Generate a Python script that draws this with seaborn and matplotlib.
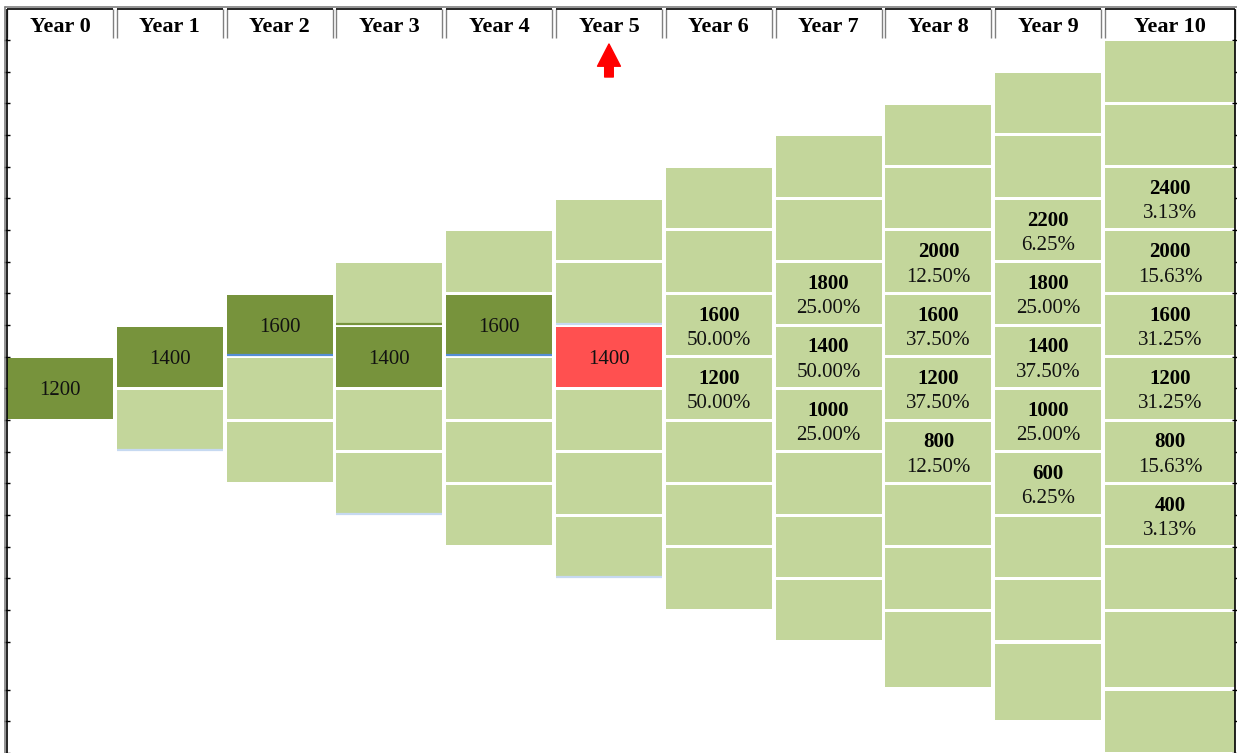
import matplotlib
matplotlib.use("Agg")
import matplotlib.pyplot as plt
from matplotlib.lines import Line2D
import numpy as np
import seaborn as sns


# ---------------------------------------------------------------------------
# Data
# ---------------------------------------------------------------------------

years = ["Year 0", "Year 1", "Year 2", "Year 3", "Year 4", "Year 5",
         "Year 6", "Year 7", "Year 8", "Year 9", "Year 10"]

# top / bottom node of each year's lattice, nodes are 400 apart
lattice_top = [1200, 1400, 1600, 1800, 2000, 2200, 2400, 2600, 2800, 3000, 3200]
lattice_bottom = [1200, 1000, 800, 600, 400, 200, 0, -200, -400, -600, -800]
lattice_step = 400

# realised path, Year 0 .. Year 5 (last one = current year)
path_values = [1200, 1400, 1600, 1400, 1600, 1400]

# forecast nodes and their probabilities (%)
forecast_years = [6, 7, 8, 9, 10]
forecast_values = [
    [1600, 1200],
    [1800, 1400, 1000],
    [2000, 1600, 1200, 800],
    [2200, 1800, 1400, 1000, 600],
    [2400, 2000, 1600, 1200, 800, 400],
]
forecast_probs = [
    [50.00, 50.00],
    [25.00, 50.00, 25.00],
    [12.50, 37.50, 37.50, 12.50],
    [6.25, 25.00, 37.50, 25.00, 6.25],
    [3.13, 15.63, 31.25, 31.25, 15.63, 3.13],
]

# thin coloured rules left under some cells (year, node, colour)
cell_rules = [
    (1, 1000, "#C6D9F1"), (2, 1600, "#558ED5"), (3, 1800, "#77933C"),
    (3, 600, "#C6D9F1"), (4, 1600, "#558ED5"), (5, 1800, "#C6D9F1"),
    (5, 200, "#C6D9F1"),
]

# ---------------------------------------------------------------------------
# Style / layout
# ---------------------------------------------------------------------------

LIGHT = "#C3D69B"
DARK = "#77933C"
CURRENT = "#FF5050"
GREY = "#808080"

W, H = 1237, 753
col_width = [0.965] * 10 + [1.184]
X_MAX = 11.184

PX = 31.83 / 200          # pixels per value unit
ROW = 48                  # one stretched table row (-400 .. -600)
px_m400 = 390 + 1600 * PX
v_knots = [-3000, -600, -400, 5000]
px_knots = [px_m400 + ROW + 2400 * PX, px_m400 + ROW, px_m400, 390 - 3800 * PX]
q_knots = [-p for p in px_knots]


def fwd(v):
    return np.interp(v, v_knots, q_knots)


def inv(q):
    return np.interp(q, q_knots, v_knots)


gap = 1.5 / PX
head_px = 39.9
nudge = 2.5 / PX          # text sits a little below the cell centre

sns.set_theme(style="white")
plt.rcParams["font.family"] = ["Liberation Serif", "DejaVu Serif"]

fig = plt.figure(figsize=(W / 100, H / 100), dpi=100)
fig.patch.set_facecolor("white")

# ---- body ------------------------------------------------------------------
ax = fig.add_axes([7 / W, 0, (1235 - 7) / W, (H - head_px) / H])
ax.set_yscale("function", functions=(fwd, inv))
ax.set_xlim(0, X_MAX)
ax.set_ylim(inv(-H), inv(-head_px))

for i, (top, bot) in enumerate(zip(lattice_top, lattice_bottom)):
    nodes = np.arange(top, bot - 1, -lattice_step)
    colors = []
    for v in nodes:
        if i < len(path_values) and v == path_values[i]:
            colors.append(CURRENT if i == len(path_values) - 1 else DARK)
        else:
            colors.append(LIGHT)
    ax.bar(i, lattice_step - 2 * gap, bottom=nodes - lattice_step / 2 + gap,
           width=col_width[i], align="edge", color=colors, linewidth=0)

for yr, v, c in cell_rules:
    ax.hlines(v - lattice_step / 2 + gap, yr, yr + col_width[yr], color=c, lw=1.6)

# realised path labels
for i, v in enumerate(path_values):
    ax.text(i + col_width[i] / 2, v - nudge, str(v), ha="center", va="center",
            fontsize=15, color="#111111")

# forecast labels
up, down = 12 / PX, 13 / PX
for yr, vals, probs in zip(forecast_years, forecast_values, forecast_probs):
    cx = yr + col_width[yr] / 2
    for v, p in zip(vals, probs):
        ax.text(cx, v + up - nudge, str(v), ha="center", va="center",
                fontsize=15, weight="bold", color="black")
        ax.text(cx, v - down - nudge, f"{p:.2f}%", ha="center", va="center",
                fontsize=15, color="#111111")

ax.set_xticks([])
ax.set_yticks(np.arange(-1000, 3401, 200))
ax.tick_params(axis="y", left=True, right=True, direction="inout",
               length=4, width=1, color="black", labelleft=False)
for side in ["top", "bottom"]:
    ax.spines[side].set_visible(False)
for side in ["left", "right"]:
    ax.spines[side].set_color("black")
    ax.spines[side].set_linewidth(1.2)

# current-year arrow under the header
cx5 = 5 + col_width[5] / 2
ax.annotate("", xy=(cx5, H - 44), xycoords=("data", "figure pixels"),
            xytext=(cx5, H - 77), textcoords=("data", "figure pixels"),
            arrowprops=dict(arrowstyle="simple,head_length=1.6,head_width=1.65,tail_width=0.62",
                            color="red", shrinkA=0, shrinkB=0, mutation_scale=10),
            annotation_clip=False)

# ---- header ----------------------------------------------------------------
hax = fig.add_axes([7 / W, (H - head_px) / H, (1235 - 7) / W, head_px / H])
hax.set_xlim(0, X_MAX)
hax.set_ylim(head_px, 0)
hax.axis("off")

for i, label in enumerate(years):
    w = col_width[i]
    hax.vlines([i, i + w], 9.5, head_px - 1.5, color=GREY, lw=1, clip_on=False)
    hax.hlines(9.5, i, i + w, color="black", lw=1.2, clip_on=False)
    hax.text(i + w / 2, 27, label, ha="center", va="center",
             fontsize=16, weight="bold", color="black")
hax.vlines(0, 9.5, head_px, color="black", lw=1.2, clip_on=False)
hax.vlines(X_MAX, 9.5, head_px, color="black", lw=1.2, clip_on=False)

# outer table frame
fig.add_artist(Line2D([4.5 / W, 4.5 / W], [0, 1 - 6.5 / H], color=GREY, lw=1.2))
fig.add_artist(Line2D([4.5 / W, 1], [1 - 6.5 / H, 1 - 6.5 / H], color=GREY, lw=1.2))

fig.savefig("out.png", dpi=100, facecolor="white")
